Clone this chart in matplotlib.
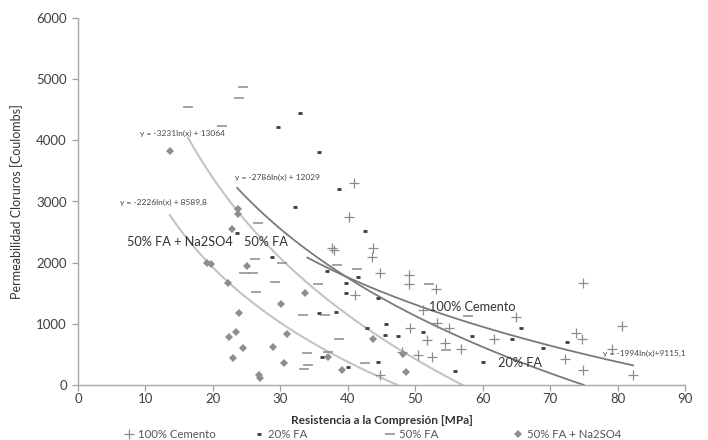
import numpy as np
import matplotlib
matplotlib.use("Agg")
import matplotlib.pyplot as plt

plt.rcParams['font.family'] = ['Lato', 'DejaVu Sans']

# ---------------- data ----------------
series_names = ["100% Cemento", "20% FA", "50% FA", "50% FA + Na2SO4"]

cem_x = [40.9, 40.2, 37.7, 37.9, 43.7, 43.6, 44.8, 49.1, 49.1, 53.1, 41.1, 51.1,
         53.3, 55.0, 49.2, 51.7, 54.4, 56.8, 50.4, 52.5, 44.8, 61.7, 64.9, 74.9,
         80.7, 73.8, 74.7, 72.2, 74.9, 82.3, 79.2, 48.0]
cem_y = [3310, 2750, 2240, 2200, 2240, 2100, 1830, 1800, 1650, 1570, 1470, 1225,
         1010, 930, 930, 740, 680, 590, 490, 460, 160, 760, 1110, 1665,
         970, 850, 750, 425, 245, 160, 590, 540]

fa20_x = [32.9, 29.7, 35.7, 38.7, 32.2, 42.6, 23.6, 28.7, 36.9, 41.5, 39.8, 39.7,
          44.5, 35.8, 38.2, 45.7, 42.8, 45.5, 47.4, 51.2, 36.2, 44.5, 40.0, 55.9,
          58.4, 60.0, 64.4, 65.7, 69.0, 72.5]
fa20_y = [4450, 4210, 3810, 3200, 2910, 2520, 2490, 2090, 1860, 1770, 1670, 1500,
          1420, 1180, 1200, 1000, 930, 820, 800, 870, 460, 375, 290, 225,
          800, 375, 745, 940, 600, 700]

fa50_x = [16.3, 24.4, 23.9, 21.4, 26.7, 26.2, 30.2, 24.6, 26.0, 29.2, 26.4, 35.6,
          33.4, 36.6, 38.7, 34.0, 37.1, 34.1, 33.5, 42.6, 38.4, 41.4, 52.0, 57.8,
          54.5]
fa50_y = [4540, 4870, 4700, 4230, 2650, 2060, 2000, 1830, 1830, 1690, 1520, 1650,
          1140, 1140, 750, 520, 540, 330, 260, 365, 1960, 1890, 1650, 1120,
          580]

na_x = [13.6, 23.7, 23.7, 22.8, 19.2, 19.7, 22.3, 25.0, 23.9, 23.4, 22.4, 24.5,
        23.0, 26.8, 27.0, 30.1, 33.7, 31.0, 28.9, 30.5, 37.1, 39.1, 43.7, 48.2,
        48.6]
na_y = [3820, 2880, 2800, 2550, 1990, 1980, 1660, 1950, 1180, 870, 780, 600,
        440, 160, 120, 1330, 1500, 830, 620, 360, 460, 250, 750, 500,
        210]

# logarithmic trend lines y = a ln(x) + b
trend_slope = [-1994, -2786, -3231, -2226]
trend_icpt = [9115.1, 12029, 13064, 8589.8]
trend_xmin = [34.0, 23.6, 16.3, 13.6]
trend_xmax = [82.3, 75.0, 57.8, 48.6]

eq_labels = ["y = -1994ln(x)+9115,1", "y = -2786ln(x) + 12029",
             "y = -3231ln(x) + 13064", "y = -2226ln(x) + 8589,8"]
eq_x = [77.9, 23.3, 9.2, 6.2]
eq_y = [520, 3400, 4120, 2990]

name_x = [52.0, 62.3, 24.6, 7.3]
name_y = [1275, 365, 2330, 2330]

x_ticks = [0, 10, 20, 30, 40, 50, 60, 70, 80, 90]
y_ticks = [0, 1000, 2000, 3000, 4000, 5000, 6000]

# ---------------- styles ----------------
W, H = 708, 440
fig = plt.figure(figsize=(W / 100, H / 100), dpi=100)
ax = fig.add_axes([78 / W, 1 - 385 / H, 607 / W, 367 / H])

styles = [
    dict(marker='+', ms=7, mew=0.9, color='#8c8c8c', ls='none'),
    dict(marker='_', ms=3.4, mew=2.0, color='#3c3c3c', ls='none'),
    dict(marker='_', ms=7, mew=1.1, color='#8a8a8a', ls='none'),
    dict(marker='D', ms=4.2, mew=0, color='#8e8e8e', ls='none'),
]
trend_colors = ['#7a7a7a', '#7a7a7a', '#c4c4c4', '#c4c4c4']
trend_lw = [1.3, 1.3, 1.5, 1.5]

xs = [cem_x, fa20_x, fa50_x, na_x]
ys = [cem_y, fa20_y, fa50_y, na_y]

handles = []
for i in range(4):
    h, = ax.plot(xs[i], ys[i], **styles[i], zorder=3)
    handles.append(h)

for i in range(4):
    a, b = trend_slope[i], trend_icpt[i]
    x0 = np.exp(-b / a)
    xe = min(trend_xmax[i], x0)
    xx = np.linspace(trend_xmin[i], xe, 200)
    ax.plot(xx, a * np.log(xx) + b, color=trend_colors[i], lw=trend_lw[i], zorder=2)

for i in range(4):
    ax.text(eq_x[i], eq_y[i], eq_labels[i], fontsize=6, color='#444444',
            ha='left', va='center', clip_on=False, zorder=4)
    ax.text(name_x[i], name_y[i], series_names[i], fontsize=9.2, color='#333333',
            ha='left', va='center', zorder=4)

ax.set_xlim(0, 90)
ax.set_ylim(0, 6000)
ax.set_xticks(x_ticks)
ax.set_yticks(y_ticks)
ax.tick_params(axis='both', labelsize=9.5, colors='#a0a0a0', labelcolor='#404040',
               length=4, width=0.9, direction='out')
ax.tick_params(axis='x', pad=2)
ax.tick_params(axis='y', pad=4)
for s in ['top', 'right']:
    ax.spines[s].set_visible(False)
for s in ['left', 'bottom']:
    ax.spines[s].set_color('#a8a8a8')
    ax.spines[s].set_linewidth(1.0)

ax.set_xlabel('Resistencia a la Compresión [MPa]', fontsize=8.6, fontweight='bold',
              color='#333333')
ax.xaxis.set_label_coords(0.5, -(415 - 385) / 367)
ax.set_ylabel('Permeabilidad Cloruros [Coulombs]', fontsize=9, color='#333333')
ax.yaxis.set_label_coords(-(78 - 23) / 607, 0.5)

# legend: four equally spaced entries along the bottom
leg_x_px = [129, 259, 390, 518]
for h, name, xp in zip(handles, series_names, leg_x_px):
    hl = 0.8
    fs = 8.2
    off = hl * fs * 100 / 72 / 2
    fig.legend([h], [name], loc='center left',
               bbox_to_anchor=((xp - off) / W, 1 - 434 / H),
               frameon=False, fontsize=fs, handlelength=hl, handletextpad=0.4,
               borderpad=0, borderaxespad=0, labelcolor='#555555')

fig.savefig('out.png', dpi=100)
